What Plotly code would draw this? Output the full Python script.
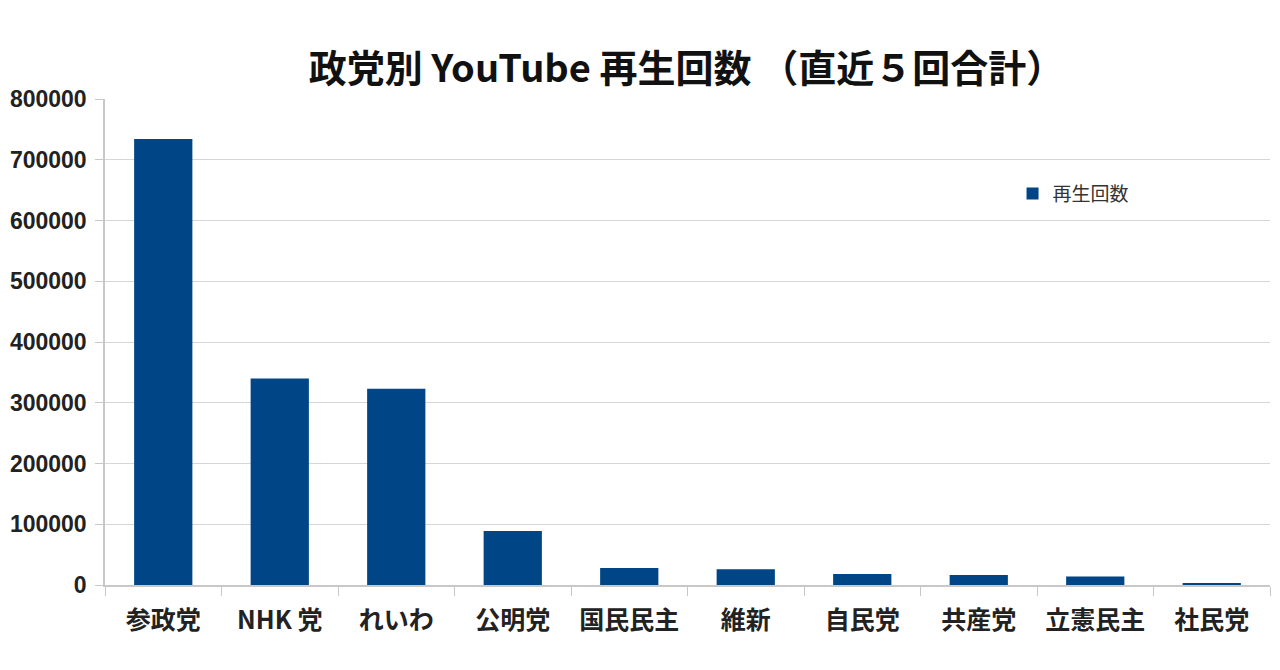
import plotly.graph_objects as go

parties = ["参政党", "NHK 党", "れいわ", "公明党", "国民民主", "維新", "自民党", "共産党", "立憲民主", "社民党"]
views = [734000, 340000, 323000, 89000, 28000, 26000, 18000, 16500, 14000, 3000]
series_name = "再生回数"
title_text = "政党別 YouTube 再生回数 （直近５回合計）"
y_ticks = [0, 100000, 200000, 300000, 400000, 500000, 600000, 700000, 800000]

fig = go.Figure()
fig.add_trace(go.Bar(
    x=parties, y=views, name=series_name,
    marker=dict(color="#004586", line=dict(width=0)),
    showlegend=True,
))

fig.update_layout(
    width=1280, height=670,
    paper_bgcolor="white", plot_bgcolor="white",
    margin=dict(l=97, r=18, t=91, b=93),
    bargap=0.5,
    title=dict(text="<b>" + title_text + "</b>", x=0.53, xanchor="center", y=0.91, yanchor="middle",
               font=dict(family="Noto Sans CJK JP", size=38, color="#111111")),
    legend=dict(x=0.779, y=0.805, xanchor="left", yanchor="middle", bgcolor="rgba(0,0,0,0)",
                font=dict(family="Noto Sans CJK JP", size=19, color="#333333"),
                itemwidth=30),
    showlegend=True,
    font=dict(family="Liberation Sans", color="#222222"),
)

fig.update_yaxes(
    range=[0, 800000], tickvals=y_ticks, ticktext=["<b>%d</b>" % v for v in y_ticks],
    showgrid=True, gridcolor="#d6d6d6", gridwidth=1,
    showline=True, linecolor="#c8c8c8", linewidth=1.5,
    ticks="outside", ticklen=8, tickcolor="#c8c8c8",
    tickfont=dict(family="Liberation Sans", size=23, color="#222222"),
    ticklabelstandoff=4, automargin=False,
    zeroline=False,
)
fig.update_xaxes(
    showline=True, linecolor="#c8c8c8", linewidth=1.5,
    ticks="outside", ticklen=9, tickcolor="#c8c8c8", tickson="boundaries",
    tickfont=dict(family="Noto Sans CJK JP", size=25, color="#222222"),
    tickvals=parties, ticktext=["<b>%s</b>" % p for p in parties],
    ticklabelstandoff=12, automargin=False,
)

fig.write_html("out.html")
